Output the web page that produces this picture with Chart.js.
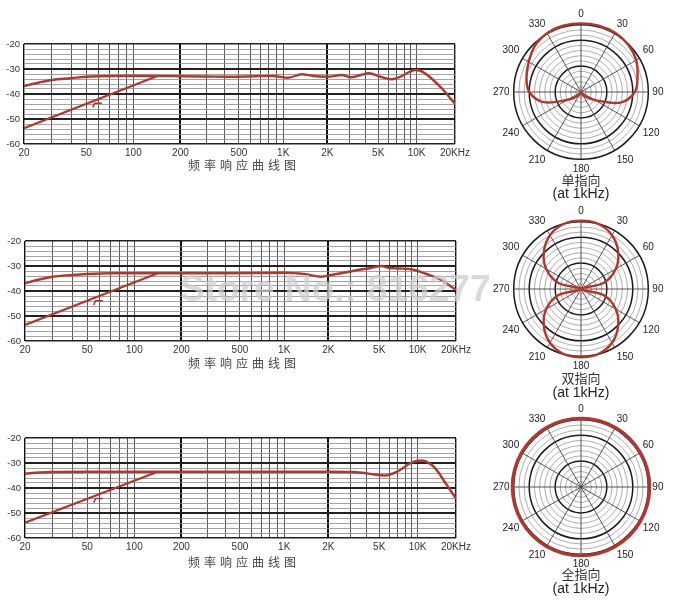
<!DOCTYPE html>
<html>
<head>
<meta charset="utf-8">
<script src="https://cdn.jsdelivr.net/npm/chart.js@4.4.1/dist/chart.umd.min.js"></script>
<style>
  html, body { margin: 0; padding: 0; background: #fff; }
  body { position: relative; width: 675px; height: 604px; overflow: hidden; font-family: "Liberation Sans", Arial, sans-serif; }
  canvas { position: absolute; }
  .titre { position: absolute; left: 144px; width: 200px; text-align: center; font-family: "Noto Sans CJK SC"; font-size: 12px; line-height: 16px; letter-spacing: 4px; color: #444; }
  .nom { position: absolute; left: 531px; width: 100px; text-align: center; font-family: "Noto Sans CJK SC"; font-size: 13px; line-height: 16px; color: #333; }
  .note { position: absolute; left: 531px; width: 100px; text-align: center; font-size: 14px; line-height: 16px; color: #222; }
  .filigrane { position: absolute; left: 180px; top: 270px; font: bold 37px/37px "Liberation Sans"; color: rgba(205,205,205,0.75); white-space: nowrap; pointer-events: none; }
</style>
</head>
<body>
<canvas id="freq1" width="480" height="128" style="left:0px;top:34px"></canvas>
<canvas id="freq2" width="480" height="128" style="left:1px;top:231px"></canvas>
<canvas id="freq3" width="480" height="128" style="left:1px;top:428px"></canvas>
<canvas id="polar1" width="176" height="176" style="left:491px;top:4px"></canvas>
<canvas id="polar2" width="176" height="176" style="left:491px;top:201px"></canvas>
<canvas id="polar3" width="176" height="176" style="left:491px;top:399px"></canvas>

<div class="titre" style="top:157px">频率响应曲线图</div>
<div class="titre" style="top:355px">频率响应曲线图</div>
<div class="titre" style="top:554px">频率响应曲线图</div>
<div class="nom" style="top:172px">单指向</div>
<div class="note" style="top:185px">(at 1kHz)</div>
<div class="nom" style="top:370px">双指向</div>
<div class="note" style="top:384px">(at 1kHz)</div>
<div class="nom" style="top:566px">全指向</div>
<div class="note" style="top:580px">(at 1kHz)</div>
<div class="filigrane">Store No.: 816277</div>

<script>
// ---------- valeurs ----------
const gridFreqs = [20, 30, 40, 50, 60, 70, 80, 90, 100, 200, 300, 400, 500, 600, 700, 800, 900,
  1000, 2000, 3000, 4000, 5000, 6000, 7000, 8000, 9000, 10000, 20000];
const freqLabels = { 20: '20', 50: '50', 100: '100', 200: '200', 500: '500', 1000: '1K', 2000: '2K', 5000: '5K', 10000: '10K', 20000: '20KHz' };

// 单指向
const cardFreq = [20, 25, 30, 40, 50, 60, 80, 120, 200, 300, 435, 650, 850, 1080, 1340, 1600, 2000, 2600, 3040, 3600, 4220, 5200, 6400, 7460, 8500, 9750, 10700, 12000, 13500, 16200, 20000];
const cardDb = [-36.8, -35.4, -34.4, -33.7, -33.1, -32.9, -32.8, -32.8, -32.9, -33, -33.1, -32.9, -32.8, -33.5, -32.1, -32.8, -33.1, -32.4, -33.3, -32.5, -31.7, -33.1, -34.1, -33.1, -31.5, -30.4, -30.7, -32.2, -34.4, -38.4, -44];
// 双指向
const fig8Freq = [20, 25, 30, 40, 50, 70, 120, 200, 435, 1010, 1400, 1783, 2100, 2700, 3425, 4300, 5200, 5870, 7000, 8920, 11320, 13000, 15350, 20000];
const fig8Db = [-36.9, -35.3, -34.3, -33.6, -33.2, -32.9, -32.9, -32.9, -32.9, -32.7, -33.3, -34.3, -33.6, -32.6, -31.6, -30.8, -30, -30.7, -31, -31.3, -32.9, -34, -35.6, -39.6];
// 全指向
const omniFreq = [20, 25, 30, 50, 100, 200, 500, 1000, 2100, 3000, 3640, 4500, 5520, 7010, 8920, 10670, 12760, 14500, 16180, 20000];
const omniDb = [-34.3, -33.8, -33.6, -33.5, -33.5, -33.5, -33.5, -33.5, -33.5, -33.6, -33.9, -34.5, -35, -33.3, -29.9, -29, -30.6, -33.6, -37.3, -44.2];

// coupe-bas et petit symbole
const lowCutFreq = [20, 141];
const lowCutDb1 = [-53.7, -32.9];
const lowCutDb2 = [-53.6, -32.9];
const lowCutDb3 = [-53.9, -33.5];
const markFreq = [55, 56.5, 63];
const markDb1 = [-45.4, -43.7, -43.7];
const markDb2 = [-45.6, -43.9, -43.9];
const markDb3 = [-45.9, -44.2, -44.2];

// diagrammes polaires, un point tous les 15°
const angleLabels = ['0', '15', '30', '45', '60', '75', '90', '105', '120', '135', '150', '165',
  '180', '195', '210', '225', '240', '255', '270', '285', '300', '315', '330', '345'];
const cardPolar = [26.5, 26.5, 26.4, 25.8, 24.6, 22.6, 20.8, 15.8, 6.3, 2.5, 1, 0.3, 0, 0.3, 1, 2.5, 6.2, 15, 20, 21.8, 23.3, 25.2, 26.2, 26.5];
const fig8Polar = [26.4, 26, 24, 20.3, 15.5, 9, 0, 9, 15.5, 20.3, 24, 26, 26.4, 26, 24, 20.3, 15.5, 9, 0, 9, 15.5, 20.3, 24, 26];
const omniPolar = [26.5, 26.5, 26.5, 26.5, 26.5, 26.5, 26.5, 26.5, 26.5, 26.5, 26.5, 26.5,
  26.5, 26.5, 26.5, 26.5, 26.5, 26.5, 26.5, 26.5, 26.5, 26.5, 26.5, 26.5];

const red = '#b3362c';

// ---------- echelle log "deformee" comme sur le papier ----------
// les decades n'ont pas la meme largeur sur l'image
const decadeLogs = [Math.log10(20), Math.log10(200), Math.log10(2000), Math.log10(20000)];
const decadeStops = [0, 0.363, 0.704, 1];

function warp(v) {
  const l = Math.log10(v);
  for (let i = 1; i < decadeLogs.length; i++) {
    if (l <= decadeLogs[i] || i === decadeLogs.length - 1) {
      const t = (l - decadeLogs[i - 1]) / (decadeLogs[i] - decadeLogs[i - 1]);
      return decadeStops[i - 1] + t * (decadeStops[i] - decadeStops[i - 1]);
    }
  }
}
function unwarp(d) {
  for (let i = 1; i < decadeStops.length; i++) {
    if (d <= decadeStops[i] || i === decadeStops.length - 1) {
      const t = (d - decadeStops[i - 1]) / (decadeStops[i] - decadeStops[i - 1]);
      return Math.pow(10, decadeLogs[i - 1] + t * (decadeLogs[i] - decadeLogs[i - 1]));
    }
  }
}

const LogBase = Chart.LogarithmicScale || Chart.registry.getScale('logarithmic');
class WarpedLogScale extends LogBase {
  getPixelForValue(value) {
    if (value === undefined || value === 0) value = this.min;
    if (value === null || isNaN(value)) return NaN;
    return this.getPixelForDecimal(warp(value));
  }
  getValueForPixel(pixel) {
    return unwarp(this.getDecimalForPixel(pixel));
  }
}
WarpedLogScale.id = 'warpedLog';
Chart.register(WarpedLogScale);

function pts(xs, ys) {
  return xs.map((x, i) => ({ x: x, y: ys[i] }));
}

function freqChart(id, freqs, dbs, cutDb, markDb) {
  new Chart(document.getElementById(id), {
    type: 'line',
    data: {
      datasets: [
        { data: pts(freqs, dbs), borderColor: red, borderWidth: 2.4, cubicInterpolationMode: 'monotone' },
        { data: pts(lowCutFreq, cutDb), borderColor: red, borderWidth: 2.2 },
        { data: pts(markFreq, markDb), borderColor: red, borderWidth: 1.6 }
      ]
    },
    options: {
      animation: false,
      responsive: false,
      events: [],
      elements: { point: { radius: 0 } },
      layout: { padding: { top: 10, right: 25, left: 0, bottom: 0 } },
      plugins: { legend: { display: false }, tooltip: { enabled: false } },
      scales: {
        x: {
          type: 'warpedLog',
          min: 20,
          max: 20000,
          afterBuildTicks: s => { s.ticks = gridFreqs.map(v => ({ value: v })); },
          afterFit: s => { s.height = 18; },
          border: { display: false },
          grid: {
            drawTicks: false,
            color: c => {
              const v = c.tick ? c.tick.value : 0;
              return [20, 200, 2000, 20000].includes(v) ? '#111' : '#444';
            },
            lineWidth: c => {
              const v = c.tick ? c.tick.value : 0;
              if (v === 200 || v === 2000) return 2;
              if (v === 20 || v === 20000) return 1.4;
              return 0.9;
            }
          },
          ticks: {
            autoSkip: false,
            maxRotation: 0,
            minRotation: 0,
            padding: 3,
            color: '#333',
            font: { family: 'Liberation Sans', size: 10 },
            callback: v => freqLabels[v] || ''
          }
        },
        y: {
          min: -60,
          max: -20,
          afterFit: s => { s.width = 24; },
          border: { display: false },
          grid: {
            drawTicks: false,
            color: c => {
              const v = c.tick ? c.tick.value : 0;
              return v % 10 === 0 ? '#222' : '#8c8c8c';
            },
            lineWidth: c => {
              const v = c.tick ? c.tick.value : 0;
              if (v === -20 || v === -60) return 1.4;
              if (v % 10 === 0) return 2;
              return 0.8;
            }
          },
          ticks: {
            stepSize: 2,
            maxTicksLimit: 40,
            autoSkip: false,
            padding: 4,
            color: '#333',
            font: { family: 'Liberation Sans', size: 9.5 },
            callback: v => (v % 10 === 0 ? String(v) : '')
          }
        }
      }
    }
  });
}

function polarChart(id, values, width) {
  new Chart(document.getElementById(id), {
    type: 'radar',
    data: {
      labels: angleLabels,
      datasets: [{ data: values, borderColor: red, borderWidth: width, fill: false, tension: 0.34, pointRadius: 0 }]
    },
    options: {
      animation: false,
      responsive: false,
      events: [],
      plugins: { legend: { display: false }, tooltip: { enabled: false } },
      scales: {
        r: {
          min: 0,
          max: 26,
          ticks: { display: false, stepSize: 2, maxTicksLimit: 40 },
          grid: {
            circular: true,
            color: c => ([10, 20, 26].includes(c.tick.value) ? '#1a1a1a' : '#8a8a8a'),
            lineWidth: c => ([10, 20, 26].includes(c.tick.value) ? 1.5 : 0.7)
          },
          angleLines: {
            color: '#444',
            lineWidth: c => (c.index % 2 === 0 ? 0.9 : 0)
          },
          pointLabels: {
            padding: 4,
            color: '#222',
            font: { family: 'Liberation Sans', size: 10 },
            callback: (l, i) => (i % 2 ? '' : l)
          }
        }
      }
    }
  });
}

freqChart('freq1', cardFreq, cardDb, lowCutDb1, markDb1);
freqChart('freq2', fig8Freq, fig8Db, lowCutDb2, markDb2);
freqChart('freq3', omniFreq, omniDb, lowCutDb3, markDb3);
polarChart('polar1', cardPolar, 2.4);
polarChart('polar2', fig8Polar, 2.4);
polarChart('polar3', omniPolar, 3.4);
</script>
</body>
</html>
